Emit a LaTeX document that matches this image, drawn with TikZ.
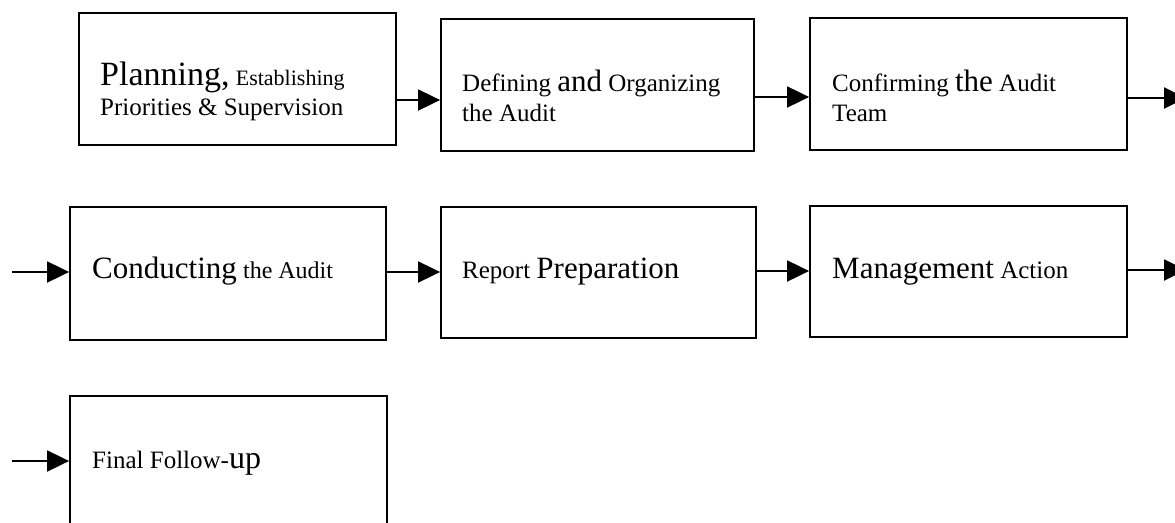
\documentclass[tikz,border=0pt]{standalone}
\usepackage{fontspec}
\setmainfont{Liberation Serif}
\usetikzlibrary{arrows.meta}
\newcommand{\fs}[1]{\fontsize{#1}{#1}\selectfont}
\begin{document}
\begin{tikzpicture}[x=1pt,y=-1pt,
  stepbox/.style={draw=black,line width=1.8pt,rectangle,inner sep=0pt},
  txt/.style={anchor=base west,inner sep=0pt,font=\fs{25}},
  arr/.style={line width=1.9pt,-{Triangle[length=22pt,width=21pt]}}]
\useasboundingbox (0,0) rectangle (1175,522);
\clip (0,0) rectangle (1175,522);
% boxes
\node[stepbox,minimum width=317pt,minimum height=132pt] (b1) at (237.5,79) {};
\node[stepbox,minimum width=313pt,minimum height=132pt] (b2) at (597.5,85) {};
\node[stepbox,minimum width=317pt,minimum height=132pt] (b3) at (968.5,84) {};
\node[stepbox,minimum width=316pt,minimum height=133pt] (b4) at (228,273.5) {};
\node[stepbox,minimum width=315pt,minimum height=131pt] (b5) at (598.5,272.5) {};
\node[stepbox,minimum width=317pt,minimum height=131pt] (b6) at (968.5,271.5) {};
\node[stepbox,minimum width=317pt,minimum height=132pt] (b7) at (228.5,462) {};
% texts
\node[txt] (t1a) at (100,85) {{\fs{34}Planning,} {\fs{22}Establishing}};
\node[txt] (t1b) at (100,115) {Priorities \& Supervision};
\node[txt] (t2a) at (462,91) {Defining {\fs{31}and} Organizing};
\node[txt] (t2b) at (462,121) {the Audit};
\node[txt] (t3a) at (832,91) {Confirming {\fs{31}the} Audit};
\node[txt] (t3b) at (832,121) {Team};
\node[txt] (t4) at (92,278) {{\fs{31}Conducting} {\fs{24}the Audit}};
\node[txt] (t5) at (462,278) {Report {\fs{31}Preparation}};
\node[txt] (t6) at (832,278) {{\fs{31}Management} Action};
\node[txt] (t7) at (92,468) {Final Follow-{\fs{32}up}};
% free ends
\coordinate (r1) at (1186,98);
\coordinate (l2) at (12,272);
\coordinate (r2) at (1186,270);
\coordinate (l3) at (12,461);
% connectors
\draw[arr] (b1.east |- 0,100) -- (b2.west |- 0,100);
\draw[arr] (b2.east |- 0,97) -- (b3.west |- 0,97);
\draw[arr] (b3.east |- r1) -- (r1);
\draw[arr] (l2) -- (b4.west |- l2);
\draw[arr] (b4.east |- 0,272) -- (b5.west |- 0,272);
\draw[arr] (b5.east |- 0,271) -- (b6.west |- 0,271);
\draw[arr] (b6.east |- r2) -- (r2);
\draw[arr] (l3) -- (b7.west |- l3);
\end{tikzpicture}
\end{document}
